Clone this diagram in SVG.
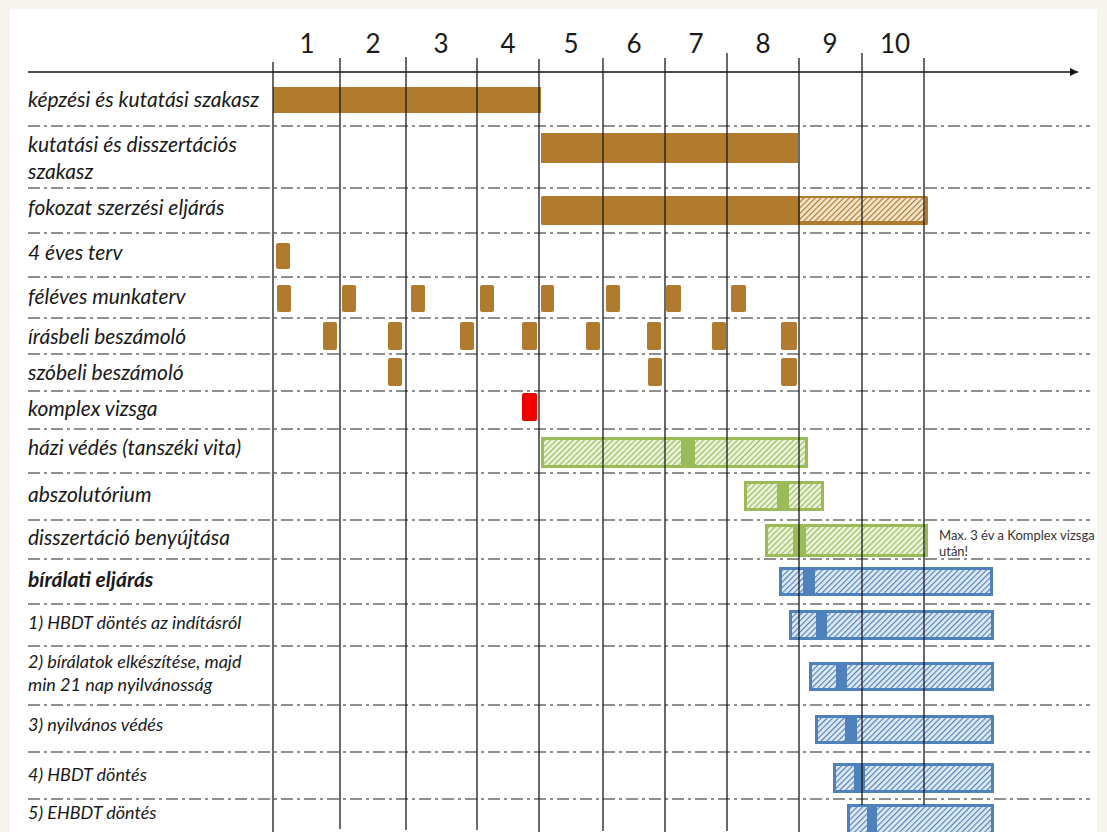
<svg xmlns="http://www.w3.org/2000/svg" width="1107" height="832" viewBox="0 0 1107 832">
<defs>
<pattern id="hb" width="4" height="4" patternUnits="userSpaceOnUse" patternTransform="rotate(45)"><rect width="4" height="4" fill="#f3e4cc"/><line x1="0" y1="0" x2="0" y2="4" stroke="#b07b2f" stroke-width="2.3"/></pattern>
<pattern id="hg" width="4" height="4" patternUnits="userSpaceOnUse" patternTransform="rotate(45)"><rect width="4" height="4" fill="#eaf2da"/><line x1="0" y1="0" x2="0" y2="4" stroke="#9bbb59" stroke-width="2.2"/></pattern>
<pattern id="hl" width="4" height="4" patternUnits="userSpaceOnUse" patternTransform="rotate(45)"><rect width="4" height="4" fill="#dfe9f5"/><line x1="0" y1="0" x2="0" y2="4" stroke="#4f81bd" stroke-width="2.3"/></pattern>
<marker id="arr" viewBox="0 0 10 10" refX="10" refY="5" markerWidth="10" markerHeight="8" markerUnits="userSpaceOnUse" orient="auto"><path d="M0,0 L10,5 L0,10 Z" fill="#111"/></marker>
</defs>
<style>
.lbl{font-family:Lato,"Liberation Sans",sans-serif;font-style:italic;font-size:21px;fill:#1a1a1a}
.sm{font-family:Lato,"Liberation Sans",sans-serif;font-style:italic;font-size:18px;fill:#1a1a1a}
.num{font-family:Lato,"Liberation Sans",sans-serif;font-size:26px;fill:#1a1a1a;text-anchor:middle}
.note{font-family:Lato,"Liberation Sans",sans-serif;font-size:13px;fill:#333}
.sep{stroke:#222;stroke-width:1.2;stroke-dasharray:12 4 3 4;fill:none}
.vl{stroke:#1a1a1a;stroke-width:1.3}
.br{fill:#b07b2f}
.sq{fill:#b07b2f}
.gb{fill:url(#hg);stroke:#9bbb59;stroke-width:3}
.gs{fill:#9bbb59}
.bb{fill:url(#hl);stroke:#4f81bd;stroke-width:3}
.bs{fill:#4f81bd}
</style>
<rect x="0" y="0" width="1107" height="832" fill="#f7f3ef"/>
<rect x="10" y="9" width="1087" height="823" fill="#ffffff"/>

<g id="header">
<text class="num" x="307" y="53">1</text>
<text class="num" x="373" y="53">2</text>
<text class="num" x="441" y="53">3</text>
<text class="num" x="508" y="53">4</text>
<text class="num" x="571" y="53">5</text>
<text class="num" x="634" y="53">6</text>
<text class="num" x="696" y="53">7</text>
<text class="num" x="763" y="53">8</text>
<text class="num" x="830" y="53">9</text>
<text class="num" x="895" y="53">10</text>
</g>

<g id="separators">
<line class="sep" x1="28" y1="126" x2="1090" y2="126"/>
<line class="sep" x1="28" y1="188" x2="1090" y2="188"/>
<line class="sep" x1="28" y1="233" x2="1090" y2="233"/>
<line class="sep" x1="28" y1="277" x2="1090" y2="277"/>
<line class="sep" x1="28" y1="318" x2="1090" y2="318"/>
<line class="sep" x1="28" y1="354" x2="1090" y2="354"/>
<line class="sep" x1="28" y1="391" x2="1090" y2="391"/>
<line class="sep" x1="28" y1="429" x2="1090" y2="429"/>
<line class="sep" x1="28" y1="473" x2="1090" y2="473"/>
<line class="sep" x1="28" y1="520" x2="1090" y2="520"/>
<line class="sep" x1="28" y1="559" x2="1090" y2="559"/>
<line class="sep" x1="28" y1="604" x2="1090" y2="604"/>
<line class="sep" x1="28" y1="646" x2="1090" y2="646"/>
<line class="sep" x1="28" y1="705" x2="1090" y2="705"/>
<line class="sep" x1="28" y1="752" x2="1090" y2="752"/>
<line class="sep" x1="28" y1="799" x2="1090" y2="799"/>
</g>

<g id="row-kepzesi">
<text class="lbl" x="28" y="107">képzési és kutatási szakasz</text>
<rect class="br" x="273" y="87" width="268" height="26"/>
</g>
<g id="row-kutatasi">
<text class="lbl" x="28" y="152">kutatási és disszertációs</text>
<text class="lbl" x="28" y="179">szakasz</text>
<rect class="br" x="541" y="133" width="257" height="30"/>
</g>
<g id="row-fokozat">
<text class="lbl" x="28" y="215">fokozat szerzési eljárás</text>
<rect class="br" x="541" y="196" width="387" height="29" rx="1.5"/>
<rect x="800" y="198" width="125" height="23" fill="url(#hb)"/>
</g>
<g id="row-4eves">
<text class="lbl" x="28" y="260">4 éves terv</text>
<rect class="sq" x="276" y="243" width="14" height="26" rx="2"/>
</g>
<g id="row-feleves">
<text class="lbl" x="28" y="304">féléves munkaterv</text>
<rect class="sq" x="277" y="285" width="14" height="27" rx="2"/>
<rect class="sq" x="342" y="285" width="14" height="27" rx="2"/>
<rect class="sq" x="411" y="285" width="14" height="27" rx="2"/>
<rect class="sq" x="480" y="285" width="14" height="27" rx="2"/>
<rect class="sq" x="541" y="285" width="13" height="27" rx="2"/>
<rect class="sq" x="606" y="285" width="14" height="27" rx="2"/>
<rect class="sq" x="666" y="285" width="15" height="27" rx="2"/>
<rect class="sq" x="731" y="285" width="15" height="27" rx="2"/>
</g>
<g id="row-irasbeli">
<text class="lbl" x="28" y="344">írásbeli beszámoló</text>
<rect class="sq" x="323" y="322" width="14" height="28" rx="2"/>
<rect class="sq" x="388" y="322" width="14" height="28" rx="2"/>
<rect class="sq" x="460" y="322" width="14" height="28" rx="2"/>
<rect class="sq" x="522" y="322" width="15" height="28" rx="2"/>
<rect class="sq" x="586" y="322" width="14" height="28" rx="2"/>
<rect class="sq" x="647" y="322" width="14" height="28" rx="2"/>
<rect class="sq" x="712" y="322" width="14" height="28" rx="2"/>
<rect class="sq" x="781" y="322" width="16" height="28" rx="2"/>
</g>
<g id="row-szobeli">
<text class="lbl" x="28" y="380">szóbeli beszámoló</text>
<rect class="sq" x="388" y="358" width="14" height="28" rx="2"/>
<rect class="sq" x="648" y="358" width="14" height="28" rx="2"/>
<rect class="sq" x="781" y="358" width="16" height="28" rx="2"/>
</g>
<g id="row-komplex">
<text class="lbl" x="28" y="416">komplex vizsga</text>
<rect x="522" y="393" width="15" height="28" rx="2" fill="#f00000"/>
</g>
<g id="row-hazi">
<text class="lbl" x="28" y="455">házi védés (tanszéki vita)</text>
<rect class="gb" x="542.5" y="438.5" width="264" height="28"/>
<rect class="gs" x="681" y="437" width="14" height="31"/>
</g>
<g id="row-abszolutorium">
<text class="lbl" x="28" y="502">abszolutórium</text>
<rect class="gb" x="745.5" y="482.5" width="77" height="27"/>
<rect class="gs" x="777" y="481" width="12" height="30"/>
</g>
<g id="row-disszertacio">
<text class="lbl" x="28" y="545">disszertáció benyújtása</text>
<rect class="gb" x="766.5" y="525.5" width="160" height="30"/>
<rect class="gs" x="793" y="524" width="13" height="33"/>
<text class="note" x="939" y="540">Max. 3 év a Komplex vizsga</text>
<text class="note" x="939" y="556">után!</text>
</g>
<g id="row-biralati">
<text class="lbl" x="28" y="587" font-weight="bold">bírálati eljárás</text>
<rect class="bb" x="780.5" y="568.5" width="211" height="26"/>
<rect class="bs" x="803" y="567" width="12" height="29"/>
</g>
<g id="row-hbdt1">
<text class="sm" x="28" y="629">1) HBDT döntés az indításról</text>
<rect class="bb" x="790.5" y="611.5" width="202" height="27"/>
<rect class="bs" x="816" y="610" width="11" height="30"/>
</g>
<g id="row-biralatok">
<text class="sm" x="28" y="668">2) bírálatok elkészítése, majd</text>
<text class="sm" x="28" y="691">min 21 nap nyilvánosság</text>
<rect class="bb" x="810.5" y="663.5" width="182" height="26"/>
<rect class="bs" x="836" y="662" width="11" height="29"/>
</g>
<g id="row-vedes">
<text class="sm" x="28" y="731">3) nyilvános védés</text>
<rect class="bb" x="816.5" y="716.5" width="176" height="26"/>
<rect class="bs" x="845" y="715" width="12" height="29"/>
</g>
<g id="row-hbdt4">
<text class="sm" x="28" y="781">4) HBDT döntés</text>
<rect class="bb" x="834.5" y="764.5" width="158" height="27"/>
<rect class="bs" x="854" y="763" width="11" height="30"/>
</g>
<g id="row-ehbdt">
<text class="sm" x="28" y="819">5) EHBDT döntés</text>
<rect class="bb" x="848.5" y="805.5" width="144" height="30"/>
<rect class="bs" x="867" y="804" width="10" height="30"/>
</g>

<g id="connectors">
<line x1="28" y1="72" x2="1078" y2="72" stroke="#111" stroke-width="1.3" marker-end="url(#arr)"/>
<line class="vl" x1="273" y1="62" x2="273" y2="832"/>
<line class="vl" x1="340" y1="58" x2="340" y2="829"/>
<line class="vl" x1="406" y1="57" x2="406" y2="830"/>
<line class="vl" x1="477" y1="58" x2="477" y2="830"/>
<line class="vl" x1="539" y1="59" x2="539" y2="832"/>
<line class="vl" x1="603" y1="58" x2="603" y2="831"/>
<line class="vl" x1="665" y1="58" x2="665" y2="832"/>
<line class="vl" x1="727" y1="53" x2="727" y2="831"/>
<line class="vl" x1="799" y1="58" x2="799" y2="832"/>
<line class="vl" x1="862" y1="53" x2="862" y2="805"/>
<line class="vl" x1="924" y1="58" x2="924" y2="805"/>
</g>
</svg>
